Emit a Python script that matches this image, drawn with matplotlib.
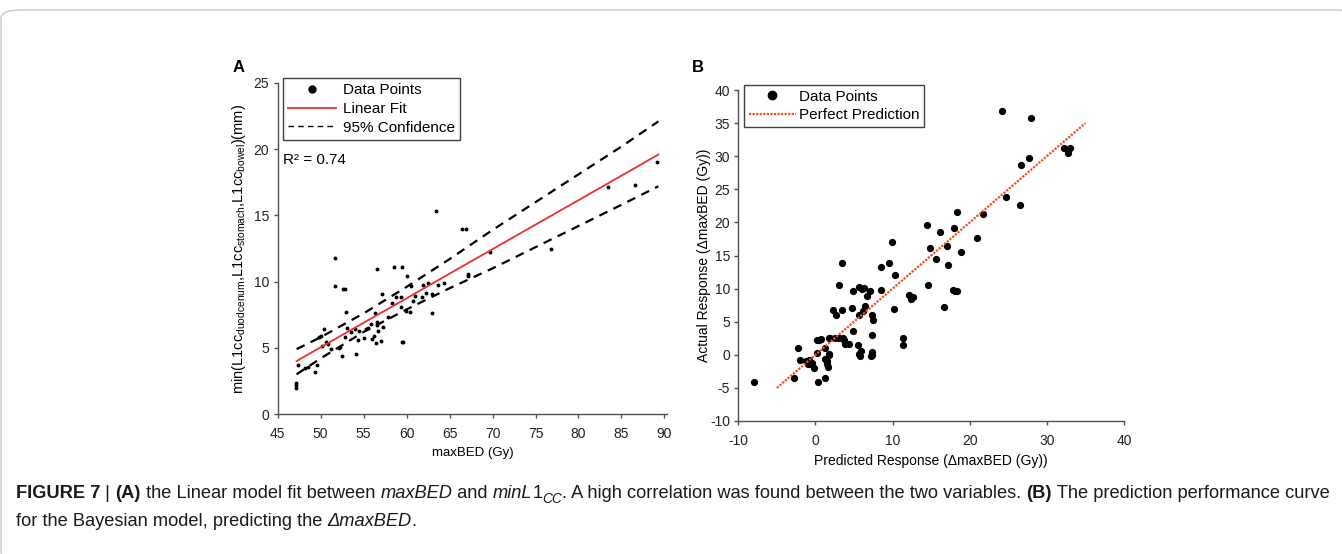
import matplotlib
matplotlib.use("Agg")
import matplotlib.pyplot as plt
from matplotlib.lines import Line2D
from matplotlib.patches import FancyBboxPatch
import numpy as np

plt.rcParams['font.family'] = ['Liberation Sans', 'DejaVu Sans']
plt.rcParams['mathtext.fontset'] = 'custom'
plt.rcParams['mathtext.rm'] = 'Liberation Sans'
plt.rcParams['axes.unicode_minus'] = False

# ---- panel A data: maxBED vs min L1cc ----
a_x = [47.1, 47.1, 47.15, 47.4, 48.2, 48.5, 49.3, 49.6, 49.8, 50.0, 50.1, 50.4,
       50.6, 50.8, 51.2, 51.7, 51.7, 52.1, 52.3, 52.5, 52.6, 52.8, 52.8, 52.9,
       53.1, 53.5, 54.0, 54.1, 54.3, 54.5, 55.0, 55.3, 55.5, 55.8, 56.0, 56.2,
       56.3, 56.4, 56.6, 56.6, 56.6, 56.7, 57.0, 57.1, 57.2, 57.8, 58.3, 58.5,
       58.8, 59.3, 59.4, 59.5, 59.45, 59.6, 59.9, 60.0, 60.4, 60.5, 60.8, 61.0,
       61.8, 61.9, 62.2, 62.5, 62.9, 62.9, 63.4, 63.7, 64.3, 66.4, 66.9, 67.1,
       67.2, 69.7, 76.8, 83.45, 86.6, 89.1]
a_y = [2.0, 2.2, 2.35, 3.7, 3.5, 3.55, 3.2, 3.7, 5.85, 5.9, 5.1, 6.45,
       5.45, 5.3, 4.9, 11.76, 9.67, 4.95, 5.05, 4.4, 9.45, 9.44, 5.8, 7.7,
       6.5, 6.2, 6.4, 4.5, 5.6, 6.3, 5.75, 6.4, 6.5, 6.8, 5.7, 5.9,
       7.6, 5.4, 10.95, 6.95, 6.7, 6.3, 5.5, 9.04, 6.6, 7.3, 8.4, 11.08,
       8.8, 8.1, 8.84, 11.08, 5.44, 5.45, 7.78, 10.45, 7.7, 9.7, 8.56, 8.9,
       8.86, 9.74, 9.16, 9.87, 9.1, 7.65, 15.3, 9.74, 9.92, 14.0, 14.0, 10.55,
       10.4, 12.26, 12.46, 17.17, 17.3, 19.06]

fit_x = [47.2, 50, 55, 60, 65, 70, 75, 80, 85, 89.3]
fit_y = [4.0, 5.04, 6.89, 8.74, 10.6, 12.45, 14.3, 16.15, 18.0, 19.6]
ci_upper = [4.9, 5.8, 7.6, 9.6, 11.7, 13.9, 16.0, 18.1, 20.2, 22.1]
ci_lower = [3.0, 4.2, 6.2, 7.9, 9.5, 11.0, 12.6, 14.2, 15.8, 17.2]

# ---- panel B data: predicted vs actual delta maxBED ----
b_pred = [-7.96, -2.77, -2.2, -2.0, -1.2, -0.8, -0.9, -0.6, -0.4, -0.2,
          0.18, 0.4, 0.7, 0.2, 0.3, 1.26, 1.3, 1.45, 1.5, 1.6, 1.26, 1.7, 1.75,
          1.8, 1.9, 2.6, 3.0, 2.34, 2.7, 3.4, 3.4, 3.6, 3.7, 3.8, 4.3, 3.0,
          4.7, 4.9, 4.85, 5.6, 5.6, 5.5, 5.6, 5.75, 5.85, 6.1, 6.3, 6.2, 6.4,
          6.7, 7.1, 7.3, 7.5, 7.3, 7.3, 7.35, 7.25, 8.5, 8.5, 9.6, 9.9, 10.3,
          10.2, 11.4, 11.4, 12.1, 12.4, 12.6, 14.6, 14.9, 15.6, 16.1, 16.7,
          17.0, 17.2, 17.8, 18.1, 18.3, 18.9, 20.9, 14.5, 18.0, 18.4, 24.2,
          27.9, 32.2, 33.0, 32.7, 27.7, 26.7, 24.7, 26.5, 21.7]
b_act = [-4.08, -3.47, 1.0, -0.76, -0.9, -0.8, -1.46, -1.46, -1.3, -2.0,
         2.2, 2.3, 2.4, 0.2, -4.1, 1.0, -0.6, -1.0, -1.4, -1.9, -3.5, 0.1, 0.0,
         2.6, 2.5, 2.6, 2.6, 6.75, 6.0, 6.75, 13.85, 2.5, 2.2, 1.7, 1.7, 10.5,
         7.1, 9.7, 3.6, 10.3, 6.0, 1.45, 0.1, -0.2, 0.55, 9.9, 10.1, 6.6, 7.3,
         8.87, 9.7, 6.0, 5.3, 3.0, 0.35, 0.0, -0.2, 13.2, 9.8, 13.9, 17.0, 12.0,
         6.9, 2.5, 1.45, 9.1, 8.4, 8.8, 10.6, 16.1, 14.45, 18.5, 7.15,
         16.4, 13.5, 9.8, 9.7, 9.6, 15.5, 17.6, 19.6, 19.2, 21.5, 36.8,
         35.7, 31.2, 31.3, 30.5, 29.8, 28.7, 23.8, 22.7, 21.25]
perfect = [-5, 35]

W, H = 1342, 554
fig = plt.figure(figsize=(W / 100, H / 100), dpi=100)

# outer rounded frame
frame = FancyBboxPatch((1 / W, 1 - 560 / H), 1360 / W, 550 / H,
                       boxstyle="round,pad=0,rounding_size=0.015",
                       transform=fig.transFigure, fill=False,
                       edgecolor='#c8c8c8', linewidth=1.0, clip_on=False)
fig.patches.append(frame)

spine_col = '#505050'


def style_axes(ax):
    for s in ['top', 'right']:
        ax.spines[s].set_visible(False)
    for s in ['left', 'bottom']:
        ax.spines[s].set_color(spine_col)
        ax.spines[s].set_linewidth(1.0)
    ax.tick_params(direction='out', length=3, width=1.0, color=spine_col,
                   labelsize=10, labelcolor='#222222', pad=3)
    ax.tick_params(axis='x', pad=6.5)


# ---- panel A ----
axA = fig.add_axes([277.7 / W, 1 - 414 / H, (667 - 277.7) / W, (414 - 83) / H])
style_axes(axA)
axA.plot(a_x, a_y, 'o', color='black', markersize=1.8, linestyle='none')
axA.plot(fit_x, fit_y, color='#e8312f', linewidth=1.3)
axA.plot(fit_x, ci_upper, color='black', linewidth=1.6, dashes=(4, 3))
axA.plot(fit_x, ci_lower, color='black', linewidth=1.6, dashes=(4, 3))
axA.set_xlim(45, 90.3)
axA.set_ylim(0, 25)
axA.set_xticks(np.arange(45, 91, 5))
axA.set_yticks(np.arange(0, 26, 5))
axA.set_xlabel('maxBED (Gy)', fontsize=9.5, labelpad=4)
axA.set_ylabel(r'min(L1cc$_{\mathregular{duodcenum}}$,L1cc$_{\mathregular{stomach}}$,'
               r'L1cc$_{\mathregular{bowel}}$)(mm)', fontsize=10.5, labelpad=4)
axA.text(283 / W, 1 - 160 / H, 'R\u00b2 = 0.74', transform=fig.transFigure,
         fontsize=11, va='center', ha='left')

hA = [Line2D([], [], marker='o', color='black', linestyle='none', markersize=5),
      Line2D([], [], color='#e8312f', linewidth=1.3),
      Line2D([], [], color='black', linewidth=1.0, dashes=(4, 3))]
legA = fig.legend(hA, ['Data Points', 'Linear Fit', '95% Confidence'],
                  loc='upper left', bbox_to_anchor=(283 / W, 1 - 78 / H),
                  bbox_transform=fig.transFigure, borderaxespad=0,
                  fontsize=11, fancybox=False, edgecolor='#404040',
                  framealpha=1, handlelength=3.1, handletextpad=0.45,
                  labelspacing=0.3, borderpad=0.35)
legA.get_frame().set_linewidth(1.0)

fig.text(233 / W, 1 - 68 / H, 'A', fontsize=12, fontweight='bold',
         va='center', ha='left')

# ---- panel B ----
axB = fig.add_axes([738.3 / W, 1 - 421 / H, (1124 - 738.3) / W, (421 - 90) / H])
style_axes(axB)
axB.plot(b_pred, b_act, 'o', color='black', markersize=4.2, linestyle='none')
axB.plot(perfect, perfect, color='#f0501e', linewidth=1.6, linestyle=(0, (1, 0.6)))
axB.set_xlim(-10, 40)
axB.set_ylim(-10, 40)
axB.set_xticks(np.arange(-10, 41, 10))
axB.set_yticks(np.arange(-10, 41, 5))
axB.set_xlabel('Predicted Response (\u0394maxBED (Gy))', fontsize=10, labelpad=4)
axB.set_ylabel('Actual Response (\u0394maxBED (Gy))', fontsize=10, labelpad=-1)

hB = [Line2D([], [], marker='o', color='black', linestyle='none', markersize=6),
      Line2D([], [], color='#f0501e', linewidth=1.6, linestyle=(0, (1, 0.6)))]
legB = fig.legend(hB, ['Data Points', 'Perfect Prediction'],
                  loc='upper left', bbox_to_anchor=(744 / W, 1 - 85 / H),
                  bbox_transform=fig.transFigure, borderaxespad=0,
                  fontsize=11, fancybox=False, edgecolor='#404040',
                  framealpha=1, handlelength=3.1, handletextpad=0.2,
                  labelspacing=0.3, borderpad=0.3)
legB.get_frame().set_linewidth(1.0)

fig.text(692 / W, 1 - 68 / H, 'B', fontsize=12, fontweight='bold',
         va='center', ha='left')

# ---- caption, drawn segment by segment ----
cap1 = [('FIGURE 7', 'bold', 'normal', 0), (' | ', 'normal', 'normal', 0),
        ('(A)', 'bold', 'normal', 0),
        (' the Linear model fit between ', 'normal', 'normal', 0),
        ('maxBED', 'normal', 'italic', 0), (' and ', 'normal', 'normal', 0),
        ('minL', 'normal', 'italic', 0), ('1', 'normal', 'normal', 0),
        ('CC', 'normal', 'italic', -1),
        ('. A high correlation was found between the two variables. ', 'normal', 'normal', 0),
        ('(B)', 'bold', 'normal', 0),
        (' The prediction performance curve', 'normal', 'normal', 0)]
cap2 = [('for the Bayesian model, predicting the ', 'normal', 'normal', 0),
        ('\u0394maxBED', 'normal', 'italic', 0), ('.', 'normal', 'normal', 0)]

fig.canvas.draw()
renderer = fig.canvas.get_renderer()
cap_size = 13.15


def draw_line(segments, x0, y0):
    x = x0
    for txt, weight, style, sub in segments:
        size = cap_size * (0.75 if sub else 1)
        y = y0 - (5 / H if sub else 0)
        t = fig.text(x, y, txt, fontsize=size, fontweight=weight,
                     fontstyle=style, va='baseline', ha='left', color='#1a1a1a')
        bb = t.get_window_extent(renderer=renderer)
        x += bb.width / W


draw_line(cap1, 16 / W, 1 - 498 / H)
draw_line(cap2, 16 / W, 1 - 526 / H)

fig.savefig('out.png', dpi=100)
